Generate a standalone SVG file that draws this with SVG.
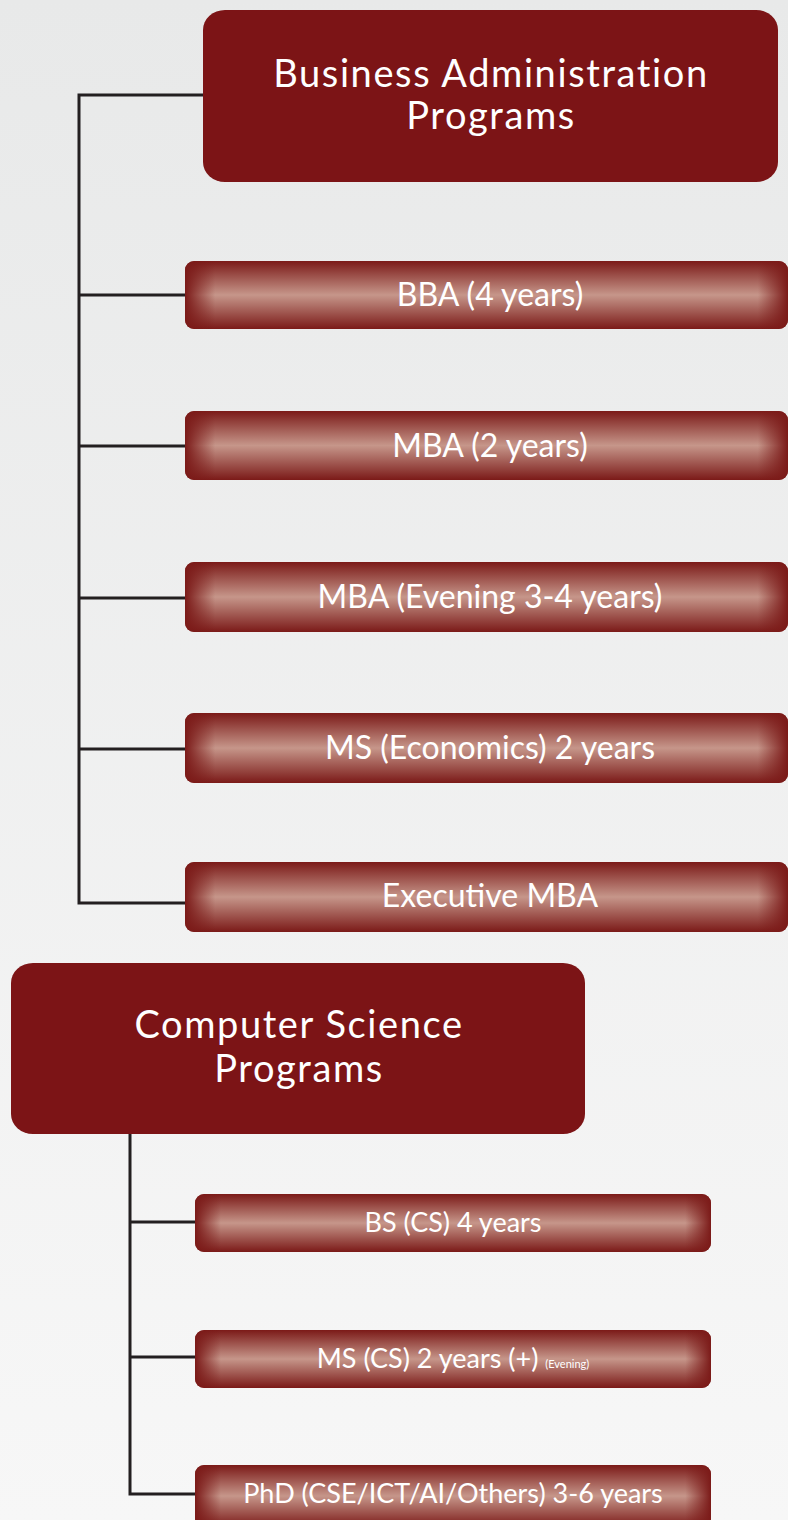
<svg xmlns="http://www.w3.org/2000/svg" width="788" height="1520" viewBox="0 0 788 1520">
<defs>
<linearGradient id="bg" x1="0" y1="0" x2="0" y2="1">
<stop offset="0" stop-color="#e8e9e9"/>
<stop offset="1" stop-color="#f7f7f7"/>
</linearGradient>
<linearGradient id="pv" x1="0" y1="0" x2="0" y2="1">
<stop offset="0" stop-color="#7b1a18"/>
<stop offset="0.5" stop-color="#c6968a"/>
<stop offset="1" stop-color="#7b1a18"/>
</linearGradient>
<linearGradient id="ph" x1="0" y1="0" x2="1" y2="0">
<stop offset="0" stop-color="#7b1a18" stop-opacity="1"/>
<stop offset="0.05" stop-color="#7b1a18" stop-opacity="0"/>
<stop offset="0.95" stop-color="#7b1a18" stop-opacity="0"/>
<stop offset="1" stop-color="#7b1a18" stop-opacity="1"/>
</linearGradient>
</defs>
<style>
.hdr{fill:#7c1416}
.hdrt{fill:#fff;font-family:Lato,"Open Sans",sans-serif;font-size:38px;letter-spacing:1.6px;text-anchor:middle}
.pb{fill:url(#pv)}
.po{fill:url(#ph)}
.pt{fill:#fff;font-family:Lato,"Open Sans",sans-serif;text-anchor:middle}
.big{font-size:32px}
.sm{font-size:27px}
.tiny{font-size:11px}
.ln{fill:none;stroke:#231f20;stroke-width:3}
</style>
<rect width="788" height="1520" fill="url(#bg)"/>
<g id="connectors">
<path class="ln" d="M204 95 H79 V903 H186 M79 295 H186 M79 446 H186 M79 598 H186 M79 749 H186"/>
<path class="ln" d="M130 1134 V1494 H196 M130 1222 H196 M130 1357 H196"/>
</g>
<g id="ba-header">
<rect class="hdr" x="203" y="10" width="575" height="172" rx="22" ry="20"/>
<text class="hdrt" x="491" y="87">Business Administration</text>
<text class="hdrt" x="491" y="129">Programs</text>
</g>
<g id="bba">
<rect class="pb" x="185" y="261" width="603" height="68" rx="9"/>
<rect class="po" x="185" y="261" width="603" height="68" rx="9"/>
<text class="pt big" x="490" y="306">BBA (4 years)</text>
</g>
<g id="mba">
<rect class="pb" x="185" y="411" width="603" height="69" rx="9"/>
<rect class="po" x="185" y="411" width="603" height="69" rx="9"/>
<text class="pt big" x="490" y="457">MBA (2 years)</text>
</g>
<g id="mba-evening">
<rect class="pb" x="185" y="562" width="603" height="70" rx="9"/>
<rect class="po" x="185" y="562" width="603" height="70" rx="9"/>
<text class="pt big" x="490" y="608">MBA (Evening 3-4 years)</text>
</g>
<g id="ms-economics">
<rect class="pb" x="185" y="713" width="603" height="70" rx="9"/>
<rect class="po" x="185" y="713" width="603" height="70" rx="9"/>
<text class="pt big" x="490" y="759">MS (Economics) 2 years</text>
</g>
<g id="executive-mba">
<rect class="pb" x="185" y="862" width="603" height="70" rx="9"/>
<rect class="po" x="185" y="862" width="603" height="70" rx="9"/>
<text class="pt big" x="490" y="907">Executive MBA</text>
</g>
<g id="cs-header">
<rect class="hdr" x="11" y="963" width="574" height="171" rx="22" ry="20"/>
<text class="hdrt" x="299" y="1038">Computer Science</text>
<text class="hdrt" x="299" y="1082">Programs</text>
</g>
<g id="bs-cs">
<rect class="pb" x="195" y="1194" width="516" height="58" rx="9"/>
<rect class="po" x="195" y="1194" width="516" height="58" rx="9"/>
<text class="pt sm" x="453" y="1232">BS (CS) 4 years</text>
</g>
<g id="ms-cs">
<rect class="pb" x="195" y="1330" width="516" height="58" rx="9"/>
<rect class="po" x="195" y="1330" width="516" height="58" rx="9"/>
<text class="pt sm" x="453" y="1368">MS (CS) 2 years (+) <tspan class="tiny">(Evening)</tspan></text>
</g>
<g id="phd">
<rect class="pb" x="195" y="1465" width="516" height="62" rx="9"/>
<rect class="po" x="195" y="1465" width="516" height="62" rx="9"/>
<text class="pt sm" x="453" y="1503">PhD (CSE/ICT/AI/Others) 3-6 years</text>
</g>
</svg>
